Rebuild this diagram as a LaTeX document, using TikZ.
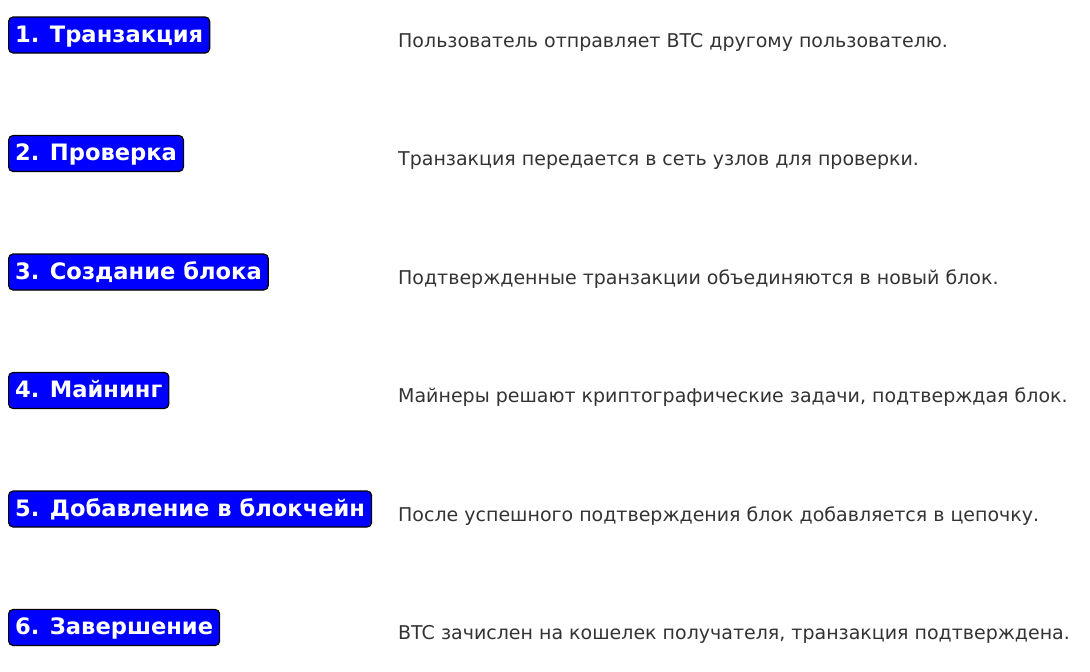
\documentclass[tikz,border=0pt]{standalone}
\usepackage{fontspec}
\setmainfont{DejaVu Sans}
\definecolor{stepblue}{RGB}{0,0,255}
\definecolor{desctext}{RGB}{51,51,51}
\tikzset{
	stepbox/.style={draw=black, line width=1.2pt, fill=stepblue, rounded corners=4.5pt,
		text=white, font=\fontsize{22.6}{26}\selectfont\bfseries,
		inner xsep=6.5pt, inner ysep=6pt, text height=19pt, text depth=5pt, anchor=base west},
	stepdesc/.style={text=desctext, font=\fontsize{19}{23}\selectfont, inner sep=0pt, anchor=base west}
}
\begin{document}
\begin{tikzpicture}[x=1pt,y=-1pt]
	\def\rowh{118.5};
	\def\descx{398};
	\useasboundingbox (0,0) rectangle (1090,672);

	% steps
	\node[stepbox] (s1) at (8,42) {1. Транзакция};
	\node[stepbox] (s2) at (8,42+\rowh) {2. Проверка};
	\node[stepbox] (s3) at (8,42+2*\rowh) {3. Создание блока};
	\node[stepbox] (s4) at (8,42+3*\rowh) {4. Майнинг};
	\node[stepbox] (s5) at (8,42+4*\rowh) {5. Добавление в блокчейн};
	\node[stepbox] (s6) at (8,42+5*\rowh) {6. Завершение};

	% descriptions
	\node[stepdesc] (d1) at (\descx,47) {Пользователь отправляет BTC другому пользователю.};
	\node[stepdesc] (d2) at (\descx,47+\rowh) {Транзакция передается в сеть узлов для проверки.};
	\node[stepdesc] (d3) at (\descx,47+2*\rowh) {Подтвержденные транзакции объединяются в новый блок.};
	\node[stepdesc] (d4) at (\descx,47+3*\rowh) {Майнеры решают криптографические задачи, подтверждая блок.};
	\node[stepdesc] (d5) at (\descx,47+4*\rowh) {После успешного подтверждения блок добавляется в цепочку.};
	\node[stepdesc] (d6) at (\descx,47+5*\rowh) {BTC зачислен на кошелек получателя, транзакция подтверждена.};
\end{tikzpicture}
\end{document}
